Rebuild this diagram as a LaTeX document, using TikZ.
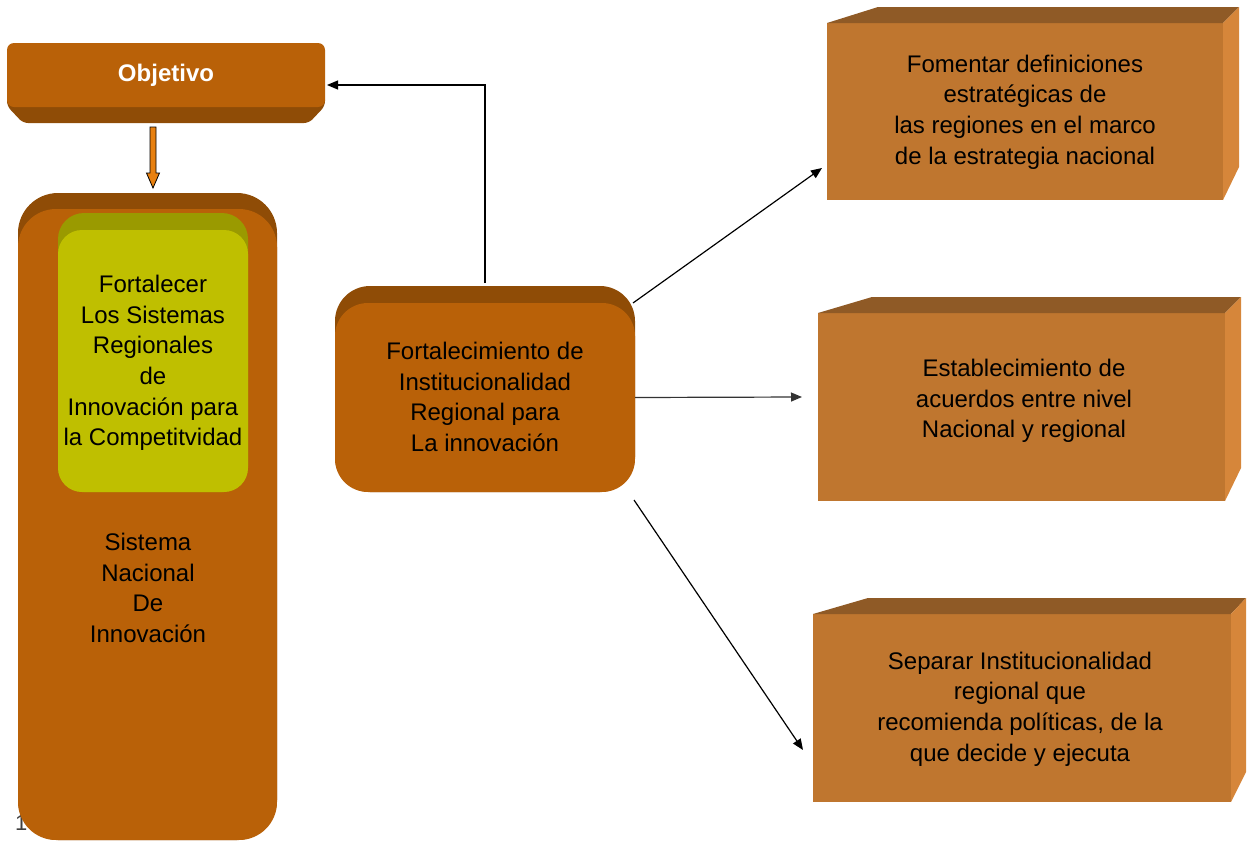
\documentclass[tikz,border=0pt]{standalone}
\usepackage{fontspec}
\setmainfont{Liberation Sans}
\usetikzlibrary{arrows.meta,calc}
\definecolor{brn}{HTML}{B96108}
\definecolor{brnd}{HTML}{8F4C06}
\definecolor{olv}{HTML}{BFBF00}
\definecolor{olvd}{HTML}{9A9A00}
\definecolor{cfront}{HTML}{BF762F}
\definecolor{ctop}{HTML}{8F5A26}
\definecolor{cside}{HTML}{D6863A}
\definecolor{oarr}{HTML}{E8800F}
\begin{document}
\begin{tikzpicture}[x=1pt,y=-1pt,
  txt/.style={align=center,font=\fontsize{24}{30.7}\selectfont,text=black,inner sep=0pt},
  face/.style={inner sep=0pt,outer sep=0pt,anchor=north west,draw=none},
  conn/.style={line width=1.2pt,draw=black,-{Triangle[length=11pt,width=9pt]}},
  ]
\useasboundingbox (0,0) rectangle (1253,841);

% hidden fragment
\node[anchor=base west,inner sep=0pt,text=black!75,font=\fontsize{22}{22}\selectfont] (frag) at (15,830) {1};

% Objetivo
\fill[brnd,rounded corners=5pt] (7,95) -- (325,95) -- (325,106) -- (309,123) -- (23,123) -- (7,106) -- cycle;
\node[face,fill=brn,rounded corners=7pt,minimum width=318pt,minimum height=64pt,
      text=white,font=\fontsize{24}{28}\selectfont\bfseries] (obj) at (7,43) {\raisebox{-2pt}{Objetivo}};

% Sistema Nacional
\node[face,fill=brnd,rounded corners=40pt,minimum width=259pt,minimum height=647pt] (snib) at (18,193) {};
\node[face,fill=brn,rounded corners=38pt,minimum width=259pt,minimum height=631pt] (sni) at (18,209) {};
\node[txt] (snit) at (148,588) {Sistema\\Nacional\\De\\Innovación};

% Fortalecer (yellow)
\node[face,fill=olvd,rounded corners=26pt,minimum width=190pt,minimum height=279pt] (fortb) at (58,213) {};
\node[face,fill=olv,rounded corners=24pt,minimum width=190pt,minimum height=262pt] (fort) at (58,230) {};
\node[txt] (fortt) at (153,363) {Fortalecer\\Los Sistemas\\Regionales\\de\\Innovación para\\la Competitvidad};

% orange arrow Objetivo -> Sistema
\coordinate (oa) at (153,127);
\filldraw[fill=oarr,draw=black,line width=0.8pt]
  ($(oa)+(-3,0)$) -- ($(oa)+(3,0)$) -- ($(oa)+(3,46)$) -- ($(oa)+(6.5,46)$) --
  ($(oa)+(0,61)$) -- ($(oa)+(-6.5,46)$) -- ($(oa)+(-3,46)$) -- cycle;

% central
\node[face,fill=brnd,rounded corners=35pt,minimum width=300pt,minimum height=206pt] (firb) at (335,286) {};
\node[face,fill=brn,rounded corners=33pt,minimum width=300pt,minimum height=189pt] (fir) at (335,303) {};
\node[txt] (firt) at (485,397) {Fortalecimiento de\\Institucionalidad\\Regional para\\La innovación};

% right box 1
\node[face,fill=cfront,minimum width=396pt,minimum height=177pt] (f1) at (827,23) {};
\fill[ctop] (f1.north west) -- ++(51,-16) -- ($(f1.north east)+(16,-16)$) -- (f1.north east) -- cycle;
\fill[cside] (f1.north east) -- ++(16,-16) -- ($(f1.north east)+(16,144)$) -- (f1.south east) -- cycle;
\node[txt] (f1t) at (1025,112) {Fomentar definiciones\\estratégicas de\\las regiones en el marco\\de la estrategia nacional};

% right box 2
\node[face,fill=cfront,minimum width=407pt,minimum height=188pt] (f2) at (818,313) {};
\fill[ctop] (f2.north west) -- ++(54,-16) -- ($(f2.north east)+(16,-16)$) -- (f2.north east) -- cycle;
\fill[cside] (f2.north east) -- ++(16,-16) -- ($(f2.north east)+(16,155)$) -- (f2.south east) -- cycle;
\node[txt] (f2t) at (1024,401) {Establecimiento de\\acuerdos entre nivel\\Nacional y regional};

% right box 3
\node[face,fill=cfront,minimum width=418pt,minimum height=188pt] (f3) at (813,614) {};
\fill[ctop] (f3.north west) -- ++(55,-16) -- ($(f3.north east)+(15,-16)$) -- (f3.north east) -- cycle;
\fill[cside] (f3.north east) -- ++(15,-16) -- ($(f3.north east)+(15,158)$) -- (f3.south east) -- cycle;
\node[txt] (f3t) at (1020,709) {Separar Institucionalidad\\regional que\\recomienda políticas, de la\\que decide y ejecuta};

% connectors
\draw[conn] ($(firb.north)+(0,-3)$) |- ($(obj.east)+(2,10)$);
\draw[conn] ($(fir.north east)+(-2,0)$) -- ($(f1.south west)+(-5,-32)$);
\draw[conn,draw=black!80] (fir.east) -- ($(f2.west)+(-16,-10)$);
\draw[conn] ($(fir.south east)+(-1,8)$) -- ($(f3.west)+(-10,42)$);
\end{tikzpicture}
\end{document}
